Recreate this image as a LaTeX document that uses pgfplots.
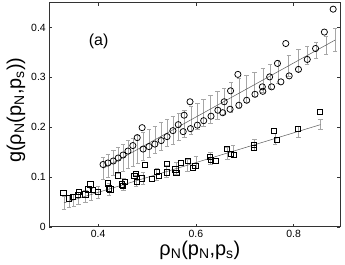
\documentclass[border=0pt]{standalone}
\usepackage{fontspec}
\setmainfont{Liberation Sans}
\usepackage{pgfplots}
\pgfplotsset{compat=1.18}
\begin{document}
\begin{tikzpicture}
\begin{axis}[
  scale only axis,
  width=290.7bp, height=224bp,
  xmin=0.3, xmax=0.895, ymin=0, ymax=0.45,
  xtick={0.4,0.6,0.8}, ytick={0,0.1,0.2,0.3,0.4},
  tick align=inside, major tick length=3bp,
  axis line style={black!80, line width=0.5pt},
  tick style={black!80, line width=0.4pt},
  /pgf/number format/assume math mode=true,
  /pgf/number format/fixed,
  ticklabel style={font=\fontsize{10.5}{12}\selectfont},
  every axis y label/.style={at={(axis description cs:-0.115,0.52)}, rotate=90, anchor=center},
  every axis x label/.style={at={(axis description cs:0.518,-0.104)}, anchor=center},
  xlabel={\fontsize{20}{24}\selectfont ρ\textsubscript{N}(p\textsubscript{N},p\textsubscript{s})},
  ylabel={\fontsize{20}{24}\selectfont g(ρ\textsubscript{N}(p\textsubscript{N},p\textsubscript{s}))},
  clip=false,
]
% circle error bars
\addplot[draw=none, mark=none, forget plot,
  error bars/.cd, y dir=both, y explicit,
  error bar style={gray!70, line width=0.6pt},
  error mark options={gray!70, line width=0.5pt, mark size=2.2bp, rotate=90}]
coordinates {
(0.410,0.1170) +- (0,0.022)
(0.420,0.1224) +- (0,0.024)
(0.431,0.1284) +- (0,0.025)
(0.441,0.1338) +- (0,0.026)
(0.451,0.1393) +- (0,0.027)
(0.461,0.1447) +- (0,0.028)
(0.471,0.1501) +- (0,0.028)
(0.481,0.1556) +- (0,0.028)
(0.492,0.1615) +- (0,0.029)
(0.504,0.1680) +- (0,0.028)
(0.516,0.1746) +- (0,0.028)
(0.529,0.1816) +- (0,0.028)
(0.541,0.1881) +- (0,0.027)
(0.553,0.1946) +- (0,0.028)
(0.565,0.2012) +- (0,0.027)
(0.577,0.2077) +- (0,0.027)
(0.590,0.2147) +- (0,0.028)
(0.603,0.2218) +- (0,0.027)
(0.616,0.2289) +- (0,0.028)
(0.630,0.2365) +- (0,0.028)
(0.644,0.2441) +- (0,0.029)
(0.658,0.2517) +- (0,0.026)
(0.672,0.2593) +- (0,0.030)
(0.688,0.2680) +- (0,0.030)
(0.704,0.2766) +- (0,0.027)
(0.720,0.2853) +- (0,0.024)
(0.737,0.2946) +- (0,0.024)
(0.752,0.3027) +- (0,0.024)
(0.768,0.3114) +- (0,0.023)
(0.790,0.3233) +- (0,0.022)
(0.810,0.3342) +- (0,0.022)
(0.828,0.3440) +- (0,0.018)
(0.846,0.3537) +- (0,0.016)
(0.866,0.3646) +- (0,0.019)
(0.885,0.3749) +- (0,0.023)
};
% square error bars
\addplot[draw=none, mark=none, forget plot,
  error bars/.cd, y dir=both, y explicit,
  error bar style={gray!70, line width=0.6pt},
  error mark options={gray!70, line width=0.5pt, mark size=2.2bp, rotate=90}]
coordinates {
(0.330,0.0480) +- (0,0.013)
(0.340,0.0510) +- (0,0.012)
(0.350,0.0540) +- (0,0.012)
(0.360,0.0570) +- (0,0.012)
(0.374,0.0612) +- (0,0.012)
(0.385,0.0644) +- (0,0.012)
(0.400,0.0689) +- (0,0.012)
(0.422,0.0755) +- (0,0.012)
(0.452,0.0845) +- (0,0.012)
(0.478,0.0923) +- (0,0.012)
(0.492,0.0964) +- (0,0.012)
(0.520,0.1048) +- (0,0.012)
(0.540,0.1108) +- (0,0.012)
(0.560,0.1168) +- (0,0.012)
(0.583,0.1236) +- (0,0.012)
(0.600,0.1287) +- (0,0.012)
(0.630,0.1377) +- (0,0.012)
(0.665,0.1482) +- (0,0.012)
(0.676,0.1515) +- (0,0.012)
(0.720,0.1646) +- (0,0.011)
(0.762,0.1772) +- (0,0.011)
(0.810,0.1915) +- (0,0.011)
(0.855,0.2050) +- (0,0.010)
};
% fit lines
\addplot[black!65, line width=0.5pt, mark=none] coordinates {(0.41,0.117) (0.885,0.375)};
\addplot[black!65, line width=0.5pt, mark=none] coordinates {(0.33,0.048) (0.855,0.205)};
% circles (main)
\addplot[only marks, mark=o, mark size=3.1bp, mark options={draw=black, fill=gray!45, line width=0.75pt}]
coordinates {
(0.410,0.125) (0.420,0.128) (0.431,0.132) (0.441,0.138) (0.451,0.144)
(0.461,0.152) (0.471,0.163) (0.480,0.179) (0.492,0.156) (0.504,0.161)
(0.516,0.166) (0.529,0.173) (0.541,0.181) (0.553,0.193) (0.564,0.205)
(0.574,0.191) (0.576,0.224) (0.589,0.197) (0.603,0.204) (0.616,0.213)
(0.631,0.222) (0.645,0.234) (0.655,0.229) (0.658,0.251) (0.670,0.236)
(0.671,0.273) (0.688,0.244) (0.704,0.254) (0.721,0.266) (0.736,0.281)
(0.737,0.272) (0.751,0.301) (0.755,0.281) (0.767,0.328) (0.774,0.291)
(0.791,0.303) (0.810,0.316) (0.828,0.336) (0.845,0.358)
};
% circles (outliers)
\addplot[only marks, mark=o, mark size=3.1bp, mark options={draw=black, fill=white, line width=0.75pt}]
coordinates {
(0.490,0.199) (0.588,0.251) (0.686,0.306) (0.784,0.368) (0.863,0.391) (0.881,0.437)
};
% squares
\addplot[only marks, mark=square, mark size=2.6bp, mark options={draw=black, fill=white, line width=0.75pt}]
coordinates {
(0.329,0.068) (0.340,0.057) (0.349,0.060) (0.358,0.064) (0.361,0.070)
(0.374,0.065) (0.380,0.075) (0.384,0.085) (0.390,0.074) (0.399,0.070)
(0.420,0.087) (0.422,0.077) (0.425,0.075) (0.440,0.103) (0.448,0.085)
(0.451,0.082) (0.454,0.090) (0.474,0.102) (0.478,0.106) (0.480,0.090)
(0.490,0.097) (0.495,0.124) (0.510,0.096) (0.520,0.110) (0.524,0.102)
(0.540,0.127) (0.540,0.109) (0.558,0.115) (0.560,0.108) (0.569,0.128)
(0.584,0.132) (0.594,0.118) (0.599,0.123) (0.628,0.140) (0.630,0.134)
(0.640,0.132) (0.664,0.157) (0.672,0.147) (0.677,0.144) (0.718,0.164)
(0.718,0.159) (0.759,0.192) (0.765,0.175) (0.808,0.197) (0.854,0.231)
};
\node[font=\fontsize{16}{19}\selectfont, anchor=center] at (axis cs:0.401,0.373) {(a)};
\end{axis}
\pgfresetboundingbox
\path[use as bounding box] ([shift={(-49.3bp,-38.3bp)}]current axis.south west) rectangle ([shift={(5bp,2.7bp)}]current axis.north east);
\end{tikzpicture}
\end{document}
